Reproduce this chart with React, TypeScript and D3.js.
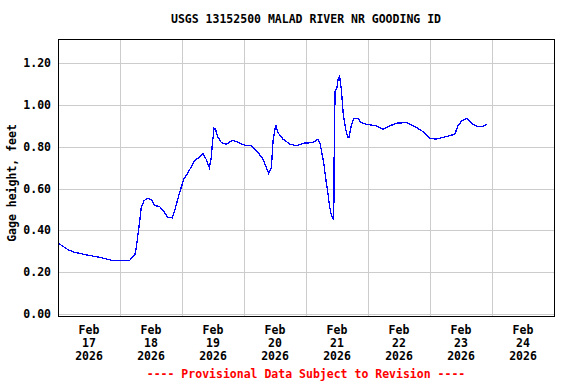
import * as d3 from 'd3';
import React from 'react';

const width = 576;
const height = 384;
const margin = { top: 39, right: 22, bottom: 68, left: 58 };

const title = 'USGS 13152500 MALAD RIVER NR GOODING ID';
const yLabel = 'Gage height, feet';
const footnote = '---- Provisional Data Subject to Revision ----';

// gage height readings (UTC-ish local time, Feb 2026)
const times = [
  '17 00:00', '17 03:50', '17 06:30', '17 11:45', '17 15:30', '17 20:40',
  '18 00:30', '18 03:45', '18 05:45', '18 06:15', '18 07:00', '18 07:40',
  '18 08:15', '18 09:20', '18 10:50', '18 12:15', '18 13:25', '18 15:20',
  '18 16:30', '18 18:30', '18 20:10', '18 21:10', '18 22:35', '18 23:30',
  '19 00:45', '19 02:25', '19 04:50', '19 07:25', '19 08:10', '19 09:20',
  '19 10:35', '19 11:15', '19 11:45', '19 12:25', '19 13:00', '19 13:40',
  '19 15:15', '19 17:10', '19 19:40', '19 22:20', '20 00:15', '20 02:50',
  '20 05:25', '20 07:20', '20 09:35', '20 10:35', '20 11:15', '20 12:15',
  '20 13:10', '20 15:05', '20 17:45', '20 20:15', '20 23:30', '21 02:40',
  '21 04:35', '21 05:30', '21 06:50', '21 07:40', '21 08:30', '21 09:05',
  '21 09:50', '21 10:45', '21 10:55', '21 11:15', '21 12:00', '21 12:30',
  '21 13:00', '21 13:40', '21 14:25', '21 15:15', '21 16:05', '21 16:35',
  '21 17:30', '21 18:30', '21 20:10', '21 21:20', '21 23:15', '22 03:15',
  '22 05:45', '22 08:25', '22 11:00', '22 14:50', '22 17:30', '22 19:55',
  '22 21:50', '23 00:00', '23 02:25', '23 06:15', '23 09:35', '23 10:50',
  '23 12:15', '23 14:10', '23 15:20', '23 16:35', '23 18:30', '23 20:25',
  '23 21:50',
];
const gageHeight = [
  0.34, 0.308, 0.295, 0.281, 0.273, 0.257,
  0.257, 0.257, 0.284, 0.313, 0.384, 0.448,
  0.511, 0.543, 0.554, 0.546, 0.519, 0.514,
  0.498, 0.463, 0.46, 0.495, 0.559, 0.598,
  0.646, 0.678, 0.733, 0.757, 0.768, 0.741,
  0.701, 0.741, 0.813, 0.889, 0.884, 0.852,
  0.82, 0.813, 0.832, 0.818, 0.808, 0.805,
  0.773, 0.741, 0.673, 0.699, 0.829, 0.905,
  0.868, 0.837, 0.813, 0.805, 0.818, 0.82,
  0.837, 0.813, 0.725, 0.646, 0.575, 0.519,
  0.471, 0.452, 0.773, 1.067, 1.083, 1.13,
  1.138, 1.075, 0.956, 0.892, 0.848, 0.844,
  0.9, 0.935, 0.935, 0.916, 0.908, 0.9,
  0.884, 0.9, 0.913, 0.916, 0.9, 0.884,
  0.868, 0.841, 0.837, 0.849, 0.86, 0.9,
  0.924, 0.935, 0.924, 0.908, 0.897, 0.897,
  0.908,
];

const yTicks = [0, 0.2, 0.4, 0.6, 0.8, 1.0, 1.2];
const dayTicks = ['17', '18', '19', '20', '21', '22', '23', '24'];

const parse = d3.utcParse('%Y-%m-%d %H:%M');
const toDate = (s: string) => parse(`2026-02-${s}`) as Date;

const font = '"DejaVu Sans Mono", monospace';

export default function App() {
  const x = d3
    .scaleUtc()
    .domain([toDate('17 00:00'), toDate('25 00:00')])
    .range([margin.left, width - margin.right]);
  const y = d3.scaleLinear().domain([0, 1.316]).range([314, margin.top]);

  const data = times.map((t, i) => [toDate(t), gageHeight[i]] as [Date, number]);
  const line = d3
    .line<[Date, number]>()
    .x((d) => x(d[0]))
    .y((d) => y(d[1]));

  const plotBottom = 316;
  const days = dayTicks.map((d) => toDate(`${d} 00:00`));

  return (
    <svg
      width={width}
      height={height}
      style={{ position: 'absolute', left: 0, top: 0, background: '#fff' }}
      fontFamily={font}
      fontWeight="bold"
      fontSize={11.5}
    >
      <text x={306} y={23} textAnchor="middle">
        {title}
      </text>

      {/* grid */}
      <g stroke="#cccccc" strokeWidth={1} shapeRendering="crispEdges">
        {yTicks.map((t) => (
          <line key={t} x1={margin.left} x2={width - margin.right} y1={Math.round(y(t)) + 0.5} y2={Math.round(y(t)) + 0.5} />
        ))}
        {days.slice(1).map((d, i) => (
          <line key={i} x1={Math.round(x(d)) + 0.5} x2={Math.round(x(d)) + 0.5} y1={margin.top} y2={plotBottom} />
        ))}
      </g>

      <path d={line(data) ?? ''} fill="none" stroke="#0000ff" strokeWidth={1.3} shapeRendering="crispEdges" />

      <rect
        x={margin.left + 0.5}
        y={margin.top + 0.5}
        width={width - margin.right - margin.left}
        height={plotBottom - margin.top}
        fill="none"
        stroke="#000"
        strokeWidth={1}
        shapeRendering="crispEdges"
      />

      {/* y axis labels */}
      {yTicks.map((t) => (
        <text key={t} x={51} y={y(t) + 4} textAnchor="end">
          {t.toFixed(2)}
        </text>
      ))}
      <text transform={`translate(16, 183) rotate(-90)`} textAnchor="middle">
        {yLabel}
      </text>

      {/* x axis labels, centred on each day */}
      {days.map((d, i) => {
        const cx = x(new Date(d.getTime() + 12 * 3600 * 1000));
        return (
          <text key={i} textAnchor="middle">
            <tspan x={cx} y={334}>Feb</tspan>
            <tspan x={cx} y={347}>{dayTicks[i]}</tspan>
            <tspan x={cx} y={360}>2026</tspan>
          </text>
        );
      })}

      <text x={306} y={378} textAnchor="middle" fill="#ff0000">
        {footnote}
      </text>
    </svg>
  );
}
